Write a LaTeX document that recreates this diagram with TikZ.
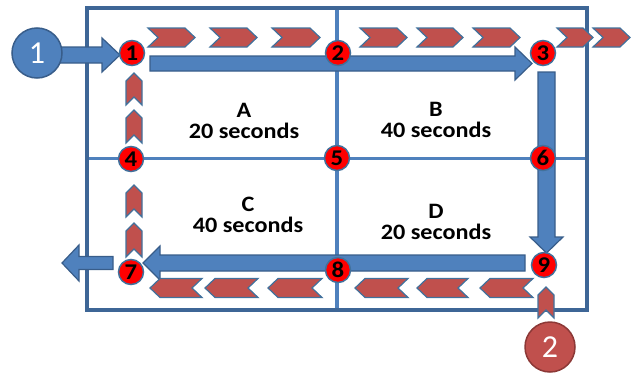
\documentclass[tikz,border=0pt]{standalone}
\usepackage{fontspec}
\setmainfont{Carlito}
\newfontfamily\widefont[FakeStretch=1.1]{Carlito}
\definecolor{fr}{RGB}{62,102,150}
\definecolor{ln}{RGB}{79,129,189}
\definecolor{arrowfill}{RGB}{79,129,189}
\definecolor{arrowdraw}{RGB}{56,93,138}
\definecolor{chevfill}{RGB}{192,80,77}
\definecolor{chevdraw}{RGB}{65,113,156}
\definecolor{bigred}{RGB}{192,80,77}
\definecolor{bigreddraw}{RGB}{140,56,54}
\tikzset{
  frame/.style={draw=fr, line width=4.5pt},
  gridline/.style={draw=ln, line width=3.5pt},
  blockarrow/.style={fill=arrowfill, draw=arrowdraw, line width=1.2pt, line join=miter},
  chevron/.style={fill=chevfill, draw=chevdraw, line width=1.2pt, line join=miter},
  stopnode/.style={circle, minimum size=25pt, inner sep=0pt, fill=red, draw=chevdraw, line width=1.5pt, font=\widefont\bfseries\fontsize{22.5}{22.5}\selectfont},
  bigstart/.style={circle, minimum size=50pt, inner sep=0pt, line width=1.5pt, text=white, font=\fontsize{32}{32}\selectfont},
  phase/.style={align=center, font=\widefont\bfseries\fontsize{22}{21}\selectfont, inner sep=0pt}
}
% right-pointing chevron: left x, right x, centre y
\newcommand\chevR[3]{\filldraw[chevron] (#1,#3-9.5) -- (#2-10,#3-9.5) -- (#2,#3) -- (#2-10,#3+9.5) -- (#1,#3+9.5) -- (#1+10,#3) -- cycle;}
% left-pointing chevron: left x, right x, centre y
\newcommand\chevL[3]{\filldraw[chevron] (#1,#3) -- (#1+10,#3-9.5) -- (#2,#3-9.5) -- (#2-10,#3) -- (#2,#3+9.5) -- (#1+10,#3+9.5) -- cycle;}
% up-pointing chevron: top y, bottom y, centre x
\newcommand\chevU[3]{\filldraw[chevron] (#3,#1) -- (#3+8,#1+8) -- (#3+8,#2) -- (#3,#2-8) -- (#3-8,#2) -- (#3-8,#1+8) -- cycle;}
% horizontal block arrow: start x, head base x, tip x, centre y, half shaft, half head
\newcommand\blockH[6]{\filldraw[blockarrow] (#1,#4-#5) -- (#2,#4-#5) -- (#2,#4-#6) -- (#3,#4) -- (#2,#4+#6) -- (#2,#4+#5) -- (#1,#4+#5) -- cycle;}
% vertical block arrow: start y, head base y, tip y, centre x, half shaft, half head
\newcommand\blockV[6]{\filldraw[blockarrow] (#4-#5,#1) -- (#4-#5,#2) -- (#4-#6,#2) -- (#4,#3) -- (#4+#6,#2) -- (#4+#5,#2) -- (#4+#5,#1) -- cycle;}
\begin{document}
\begin{tikzpicture}[x=1pt,y=-1pt]
\useasboundingbox (0,0) rectangle (634,372);
% frame and grid
\coordinate (tl) at (87,8);
\coordinate (br) at (587,310);
\coordinate (tm) at (337,8);
\coordinate (bm) at (337,310);
\coordinate (lm) at (87,158.5);
\coordinate (rm) at (587,158.5);
\draw[gridline] (tm) -- (bm);
\draw[gridline] (lm) -- (rm);
\draw[frame] (tl) rectangle (br);
% block arrows (blue route)
\blockH{60}{102}{120}{55}{8}{17}
\blockH{150}{515}{532}{63.5}{7.5}{16.5}
\blockV{72}{237}{253}{546.5}{8.5}{16.5}
\blockH{525}{160}{143}{263}{8}{17}
\blockH{113}{79}{62}{263}{6.5}{18}
% chevrons (red route)
\chevR{148}{195}{37.5}
\chevR{210}{257}{37.5}
\chevR{272}{320}{37.5}
\chevR{360}{407}{37.5}
\chevR{417}{463}{37.5}
\chevR{473}{520}{37.5}
\chevR{557}{593}{37.5}
\chevR{593}{630}{37.5}
\chevL{150}{202}{288}
\chevL{205}{258}{288}
\chevL{268}{322}{288}
\chevL{355}{408}{288}
\chevL{417}{468}{288}
\chevL{480}{533}{288}
\chevU{73}{105}{134}
\chevU{110}{143}{134}
\chevU{185}{217}{134}
\chevU{223}{257}{134}
\chevU{287}{318}{546}
% stops
\node[stopnode] (n1) at (132,53) {1};
\node[stopnode] (n2) at (338,53) {2};
\node[stopnode] (n3) at (543,53) {3};
\node[stopnode] (n4) at (131,159) {4};
\node[stopnode] (n5) at (337,158) {5};
\node[stopnode] (n6) at (543,158) {6};
\node[stopnode] (n7) at (131,272) {7};
\node[stopnode] (n8) at (338,270) {8};
\node[stopnode] (n9) at (544,265) {9};
% start circles
\node[bigstart, fill=arrowfill, draw=arrowdraw] (s1) at (37,53) {1};
\node[bigstart, fill=bigred, draw=bigreddraw] (s2) at (550,347) {2};
% phase labels
\node[phase] (pa) at (244,120.6) {A\\20 seconds};
\node[phase] (pb) at (436,119.6) {B\\40 seconds};
\node[phase] (pc) at (248,214.6) {C\\40 seconds};
\node[phase] (pd) at (436,221.6) {D\\20 seconds};
\end{tikzpicture}
\end{document}
